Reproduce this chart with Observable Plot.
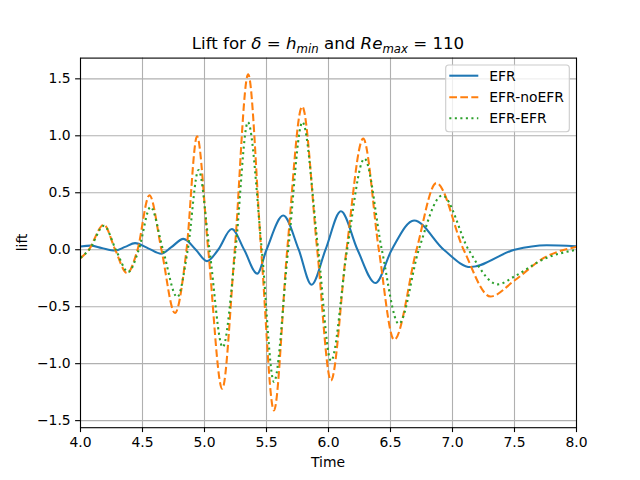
<!DOCTYPE html>
<html>
<head>
<meta charset="utf-8">
<script src="https://cdn.jsdelivr.net/npm/d3@7"></script>
<script src="https://cdn.jsdelivr.net/npm/@observablehq/plot@0.6"></script>
<style>
  html, body { margin: 0; padding: 0; background: white; }
  #chart { width: 640px; height: 480px; }
</style>
</head>
<body>
<div id="chart"></div>
<script>
// ---- data ----
const efrTime = [4.0, 4.08, 4.17, 4.28, 4.36, 4.44, 4.55, 4.65, 4.73, 4.83, 4.93, 5.02, 5.11, 5.22, 5.32, 5.425, 5.50, 5.635, 5.76, 5.863, 5.976, 6.10, 6.234, 6.378, 6.51, 6.69, 6.93, 7.145, 7.5, 7.76, 8.0];
const efrLift = [0.029, 0.036, 0.015, -0.007, 0.025, 0.058, 0.01, -0.035, 0.02, 0.095, 0.0, -0.10, 0.0, 0.182, 0.0, -0.21, 0.0, 0.30, 0.0, -0.307, 0.0, 0.338, 0.0, -0.292, 0.0, 0.257, 0.0, -0.152, 0.0, 0.04, 0.03];

const noefrTime = [4.0, 4.067, 4.188, 4.28, 4.375, 4.46, 4.556, 4.653, 4.762, 4.855, 4.94, 5.03, 5.143, 5.244, 5.352, 5.457, 5.56, 5.667, 5.788, 5.909, 6.02, 6.145, 6.28, 6.406, 6.53, 6.71, 6.87, 7.09, 7.306, 7.5, 7.74, 8.0];
const noefrLift = [-0.075, 0.0, 0.22, 0.0, -0.205, 0.0, 0.478, 0.0, -0.556, 0.0, 0.995, 0.0, -1.22, 0.0, 1.54, 0.0, -1.41, 0.0, 1.257, 0.0, -1.147, 0.0, 0.975, 0.0, -0.79, 0.0, 0.585, 0.0, -0.41, -0.27, -0.07, 0.025];

const efrefrTime = [4.0, 4.07, 4.19, 4.285, 4.385, 4.47, 4.565, 4.665, 4.78, 4.865, 4.952, 5.04, 5.147, 5.25, 5.35, 5.462, 5.56, 5.675, 5.79, 5.917, 6.02, 6.15, 6.29, 6.43, 6.567, 6.728, 6.917, 7.13, 7.365, 7.5, 7.74, 8.0];
const efrefrLift = [-0.07, 0.0, 0.21, 0.0, -0.195, 0.0, 0.375, 0.0, -0.415, 0.0, 0.70, 0.0, -0.855, 0.0, 1.12, 0.0, -1.16, 0.0, 1.12, 0.0, -0.975, 0.0, 0.80, 0.0, -0.65, 0.0, 0.476, 0.0, -0.304, -0.234, -0.08, 0.0];

const seriesNames = ["EFR", "EFR-noEFR", "EFR-EFR"];
const seriesColors = ["#1f77b4", "#ff7f0e", "#2ca02c"];
const seriesDash = [null, "7.7,3.3", "2.08,3.44"];

const xTicks = [4.0, 4.5, 5.0, 5.5, 6.0, 6.5, 7.0, 7.5, 8.0];
const yTicks = [-1.5, -1.0, -0.5, 0.0, 0.5, 1.0, 1.5];

// ---- build tables ----
const toRows = (ts, vs) => ts.map((t, i) => ({time: t, lift: vs[i]}));
const tables = [toRows(efrTime, efrLift), toRows(noefrTime, noefrLift), toRows(efrefrTime, efrefrLift)];

const fmt = d3.format(".1f");
const lw = 2.08;

const lineMarks = tables.map((rows, i) => Plot.line(rows, {
  x: "time", y: "lift",
  stroke: seriesColors[i],
  strokeWidth: lw,
  strokeDasharray: seriesDash[i] || undefined,
  strokeLinecap: "butt",
  curve: "monotone-x",
  clip: true
}));

const plot = Plot.plot({
  width: 640,
  height: 480,
  marginLeft: 80,
  marginRight: 64,
  marginTop: 57.6,
  marginBottom: 52.8,
  style: {fontFamily: "DejaVu Sans", fontSize: "13.9px", color: "black", background: "white"},
  x: {domain: [4, 8]},
  y: {domain: [-1.562, 1.682]},
  marks: [
    Plot.gridX({ticks: xTicks, stroke: "#b0b0b0", strokeOpacity: 1, strokeWidth: 1.1}),
    Plot.gridY({ticks: yTicks, stroke: "#b0b0b0", strokeOpacity: 1, strokeWidth: 1.1}),
    ...lineMarks,
    Plot.frame({stroke: "black", strokeWidth: 1.1}),
    Plot.axisX({ticks: xTicks, tickFormat: fmt, tickSize: 4.9, tickPadding: 4.9, label: null, strokeWidth: 1.1, fontSize: 13.9}),
    Plot.axisY({ticks: yTicks, tickFormat: fmt, tickSize: 4.9, tickPadding: 4.9, label: null, strokeWidth: 1.1, fontSize: 13.9})
  ]
});

document.getElementById("chart").appendChild(plot);

// ---- title, axis labels, legend ----
const svg = d3.select(plot);

const title = svg.append("text")
  .attr("x", 328).attr("y", 49)
  .attr("text-anchor", "middle")
  .attr("font-family", "DejaVu Sans")
  .attr("font-size", 16.67)
  .attr("fill", "black");
title.append("tspan").text("Lift for ");
title.append("tspan").attr("font-style", "italic").text("δ");
title.append("tspan").text(" = ");
title.append("tspan").attr("font-style", "italic").text("h");
title.append("tspan").attr("font-style", "italic").attr("font-size", 11.7).attr("dy", 3.5).text("min");
title.append("tspan").attr("dy", -3.5).text(" and ");
title.append("tspan").attr("font-style", "italic").text("Re");
title.append("tspan").attr("font-style", "italic").attr("font-size", 11.7).attr("dy", 3.5).text("max");
title.append("tspan").attr("dy", -3.5).text(" = 110");

svg.append("text")
  .attr("x", 328).attr("y", 467)
  .attr("text-anchor", "middle")
  .attr("font-family", "DejaVu Sans")
  .attr("font-size", 13.9)
  .text("Time");

svg.append("text")
  .attr("transform", "translate(27,242.4) rotate(-90)")
  .attr("text-anchor", "middle")
  .attr("font-family", "DejaVu Sans")
  .attr("font-size", 13.9)
  .text("lift");

const legend = svg.append("g").attr("text-anchor", "start");
legend.append("rect")
  .attr("x", 445.7).attr("y", 65).attr("width", 123.6).attr("height", 66.7)
  .attr("rx", 3).attr("ry", 3)
  .attr("fill", "white").attr("fill-opacity", 0.8)
  .attr("stroke", "#cccccc").attr("stroke-width", 1.1);
const rowsY = [75.7, 97.2, 118.3];
seriesNames.forEach((name, i) => {
  legend.append("line")
    .attr("x1", 449.3).attr("x2", 478.3)
    .attr("y1", rowsY[i]).attr("y2", rowsY[i])
    .attr("stroke", seriesColors[i])
    .attr("stroke-width", lw)
    .attr("stroke-dasharray", seriesDash[i])
    .attr("stroke-linecap", "butt");
  legend.append("text")
    .attr("x", 489.3).attr("y", rowsY[i])
    .attr("dy", "0.35em")
    .attr("text-anchor", "start")
    .attr("font-family", "DejaVu Sans")
    .attr("font-size", 13.9)
    .text(name);
});
</script>
</body>
</html>
